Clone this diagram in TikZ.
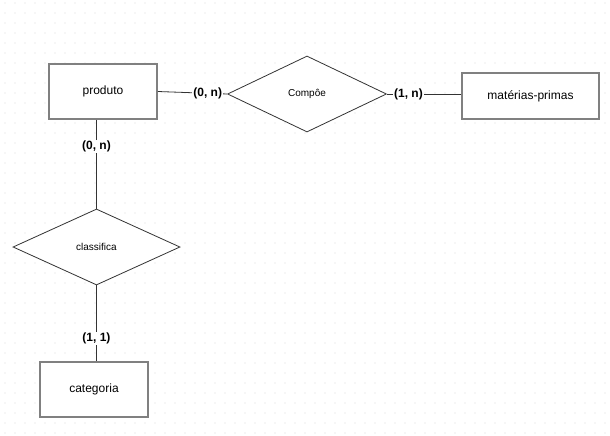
\documentclass[tikz,border=0pt]{standalone}
\usepackage{fontspec}
\setmainfont{Liberation Sans}
\usetikzlibrary{shapes.geometric}
\begin{document}
\begin{tikzpicture}[x=1pt,y=-1pt,
  entity/.style={draw=black!50, line width=1.6pt, fill=white, minimum width=#1, inner sep=0pt, font=\fontsize{12}{14}\selectfont},
  entity/.default=108,
  rel/.style={diamond, draw=black!80, line width=0.8pt, fill=white, inner sep=0pt, aspect=2.08, font=\fontsize{10}{12}\selectfont},
  conn/.style={draw=black!80, line width=0.8pt},
  card/.style={fill=white, inner sep=1pt, font=\bfseries\fontsize{12}{14}\selectfont}]
\useasboundingbox (0,0) rectangle (610,436);
\fill[white] (0,0) rectangle (610,436);
\foreach \i in {0,...,60}{\foreach \j in {0,...,43}{\fill[black!40] (5+10*\i,3+10*\j) circle (0.45);}}
\node[entity, minimum height=55] (produto) at (103,91.5) {produto};
\node[entity=137, minimum height=46] (materias) at (530.5,96) {matérias-primas};
\node[entity, minimum height=55] (categoria) at (94,389.5) {categoria};
\node[rel, minimum width=159, minimum height=76] (compoe) at (307,94) {Compôe};
\node[rel, minimum width=167, minimum height=76] (classifica) at (96.5,247) {classifica};
\draw[conn] (produto.east) -- (compoe.west) node[card, pos=0.72] (c1) {(0, n)};
\draw[conn] (compoe.east) -- (materias.west |- compoe.east) node[card, pos=0.29] (c2) {(1, n)};
\draw[conn] (produto.south -| classifica.north) -- (classifica.north) node[card, pos=0.3] (c3) {(0, n)};
\draw[conn] (classifica.south) -- (classifica.south |- categoria.north) node[card, pos=0.7] (c4) {(1, 1)};
\end{tikzpicture}
\end{document}
